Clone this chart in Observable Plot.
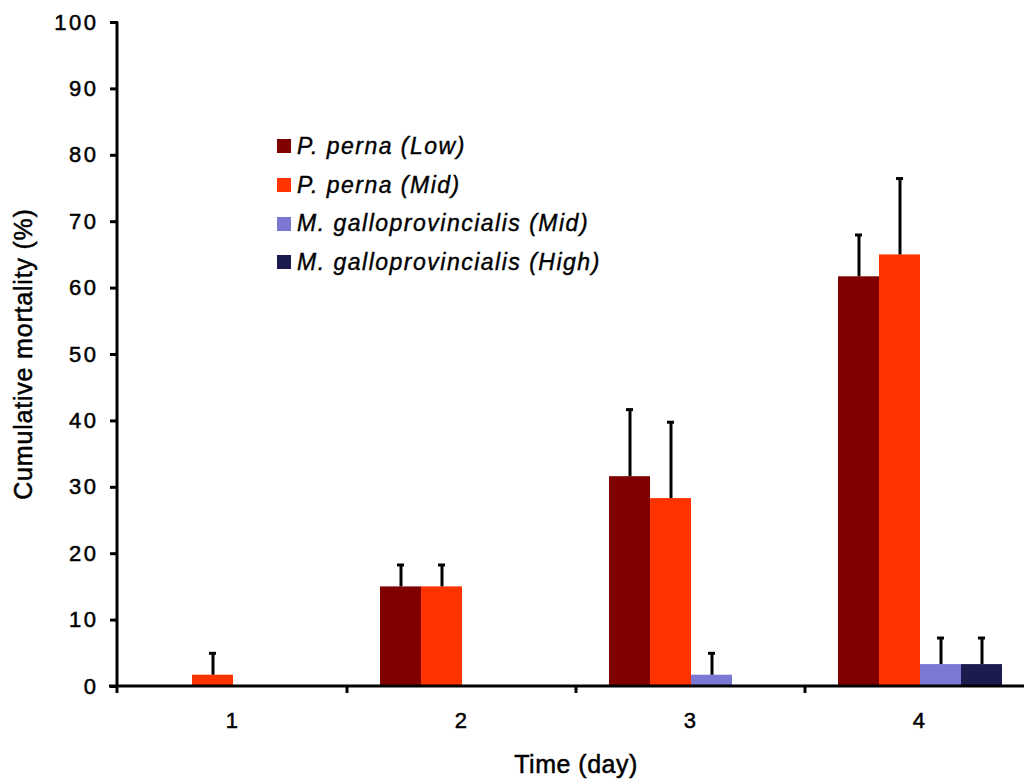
<!DOCTYPE html>
<html><head><meta charset="utf-8">
<script src="https://cdn.jsdelivr.net/npm/d3@7"></script>
<script src="https://cdn.jsdelivr.net/npm/@observablehq/plot@0.6"></script>
<style>
html,body{margin:0;padding:0;background:#fff;overflow:hidden}
#wrap{position:relative;width:1024px;height:783px;overflow:hidden}
#wrap svg{max-width:none!important}
#legend{position:absolute;left:277px;top:127px;font-family:"Liberation Sans",Arial,sans-serif;font-style:italic;font-size:23px;letter-spacing:1.5px;color:#000;-webkit-text-stroke:0.4px #000}
.row{display:flex;align-items:center;height:38.7px;white-space:pre}
.sw{width:14px;height:14px;margin-right:6px;flex:none}
#wrap svg text{letter-spacing:2.5px;font-size:22px;stroke:#000;stroke-width:0.5px}
</style></head><body><div id="wrap"><div id="legend"></div></div>
<script>
const days = ["1", "2", "3", "4"];
const series = ["P. perna (Low)", "P. perna (Mid)", "M. galloprovincialis (Mid)", "M. galloprovincialis (High)"];
const colors = ["#800000", "#FF3300", "#7A78D2", "#1B1B4D"];
const ppLow = [0, 15, 31.6, 61.7];
const ppLowErr = [0, 3.3, 10.1, 6.3];
const ppMid = [1.7, 15, 28.3, 65];
const ppMidErr = [3.3, 3.3, 11.5, 11.5];
const mgMid = [0, 0, 1.7, 3.3];
const mgMidErr = [0, 0, 3.3, 4];
const mgHigh = [0, 0, 0, 3.3];
const mgHighErr = [0, 0, 0, 4];
const yTicks = [0, 10, 20, 30, 40, 50, 60, 70, 80, 90, 100];
const xTitle = "Time (day)";
const yTitle = "Cumulative mortality (%)";

const values = [ppLow, ppMid, mgMid, mgHigh];
const errs = [ppLowErr, ppMidErr, mgMidErr, mgHighErr];
const rows = days.flatMap((day, i) => series.map((s, j) => ({
  day, series: s, value: values[j][i], err: errs[j][i], upper: values[j][i] + errs[j][i]
})));
const bars = rows.filter(d => d.value > 0);
const errBars = rows.filter(d => d.err > 0);

const W = 1034, H = 783, ML = 118, MT = 22, MB = 97;
const font = "Liberation Sans, Arial, sans-serif";

const plot = Plot.plot({
  width: W, height: H, marginLeft: ML, marginRight: 0, marginTop: MT, marginBottom: MB,
  style: {fontFamily: font, fontSize: "22px", color: "#000", background: "#fff", maxWidth: "none"},
  fx: {domain: days, padding: 0, label: null},
  x: {domain: series, paddingInner: 0, paddingOuter: 0.74, axis: null},
  y: {domain: [0, 100], label: null},
  color: {domain: series, range: colors},
  marks: [
    Plot.barY(bars, {fx: "day", x: "series", y: "value", fill: "series"}),
    Plot.ruleX(errBars, {fx: "day", x: "series", y1: "value", y2: "upper", stroke: "#000", strokeWidth: 3}),
    Plot.tickY(errBars, {fx: "day", x: "series", y: "upper", stroke: "#000", strokeWidth: 3, insetLeft: 17, insetRight: 17}),
    Plot.axisY({ticks: yTicks, tickSize: 8, tickPadding: 12, strokeWidth: 3, label: null, fontSize: 22}),
    Plot.axisFx({anchor: "bottom", tickSize: 0, tickPadding: 26, label: null, fontSize: 22})
  ]
});
plot.style.maxWidth = "none";

// Axis lines, group boundary ticks and titles, positioned with Plot's scales
const ys = plot.scale("y"), fxs = plot.scale("fx");
const y0 = ys.apply(0), yTop = ys.apply(100);
const xL = fxs.range[0], xR = fxs.range[1];
const svg = d3.select(plot);
const g = svg.append("g").attr("stroke", "#000").attr("stroke-width", 3);
g.append("line").attr("x1", xL - 1).attr("x2", xL - 1).attr("y1", yTop).attr("y2", y0 + 7);
g.append("line").attr("x1", xL - 9).attr("x2", xR).attr("y1", y0).attr("y2", y0);
for (const d of days.slice(1)) {
  const bx = fxs.apply(d);
  g.append("line").attr("x1", bx).attr("x2", bx).attr("y1", y0).attr("y2", y0 + 7);
}
svg.append("text").attr("x", (xL + xR) / 2).attr("y", y0 + 87)
  .attr("text-anchor", "middle").attr("font-family", font)
  .style("font-size", "25px").style("letter-spacing", "0.5px").attr("fill", "#000").text(xTitle);
svg.append("text").attr("transform", `translate(32,${(y0 + yTop) / 2}) rotate(-90)`)
  .attr("text-anchor", "middle").attr("font-family", font)
  .style("font-size", "25px").style("letter-spacing", "0.8px").attr("fill", "#000").text(yTitle);

document.getElementById("wrap").prepend(plot);

const legend = d3.select("#legend");
series.forEach((s, i) => {
  const r = legend.append("div").attr("class", "row");
  r.append("div").attr("class", "sw").style("background", colors[i]);
  r.append("span").text(s);
});
</script></body></html>
